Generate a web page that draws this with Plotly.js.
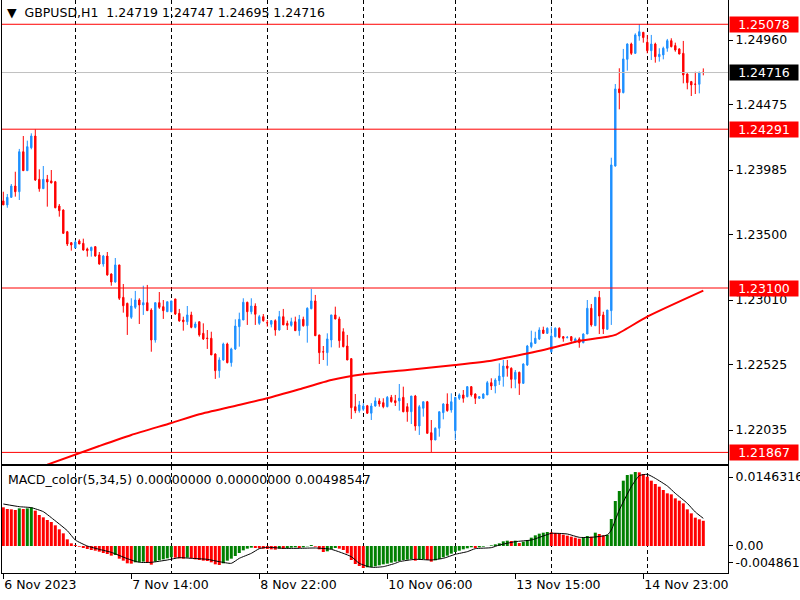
<!DOCTYPE html>
<html><head><meta charset="utf-8">
<script src="https://cdn.plot.ly/plotly-3.0.1.min.js"></script>
<style>html,body{margin:0;padding:0;background:#fff}#chart{width:800px;height:600px}</style>
</head><body><div id="chart"></div>
<script>
const symbol = "GBPUSD,H1";
const open = [
1.23753,1.23723,1.23780,1.23865,1.23822,1.24122,1.23980,1.24152,1.24240,1.23915,
1.23845,1.23915,1.23903,1.23897,1.23715,1.23685,1.23522,1.23440,1.23400,1.23453,
1.23435,1.23393,1.23380,1.23410,1.23348,1.23280,1.23340,1.23205,1.23145,1.23273,
1.23030,1.22985,1.22880,1.22955,1.23010,1.22973,1.22990,1.22935,1.22710,1.22990,
1.22960,1.22922,1.22922,1.23018,1.22910,1.22860,1.22847,1.22898,1.22805,1.22847,
1.22760,1.22725,1.22723,1.22605,1.22480,1.22560,1.22680,1.22540,1.22643,1.22810,
1.22860,1.22993,1.22922,1.22965,1.22835,1.22885,1.22840,1.22828,1.22855,1.22785,
1.22885,1.22835,1.22820,1.22847,1.22780,1.22865,1.22817,1.22945,1.23003,1.22748,
1.22622,1.22615,1.22710,1.22898,1.22868,1.22772,1.22665,1.22570,1.22210,1.22180,
1.22191,1.22217,1.22161,1.22215,1.22253,1.22240,1.22210,1.22280,1.22255,1.22253,
1.22280,1.22210,1.22172,1.22290,1.22065,1.22198,1.22247,1.22015,1.21960,1.22048,
1.22165,1.22230,1.22185,1.22030,1.22273,1.22298,1.22285,1.22360,1.22305,1.22273,
1.22273,1.22298,1.22390,1.22365,1.22405,1.22435,1.22515,1.22498,1.22415,1.22468,
1.22385,1.22523,1.22660,1.22685,1.22718,1.22785,1.22760,1.22622,1.22735,1.22798,
1.22735,1.22727,1.22735,1.22703,1.22718,1.22690,1.22755,1.22948,1.22817,1.23030,
1.22898,1.22790,1.22930,1.24015,1.24593,1.24565,1.24815,1.24930,1.24860,1.24990,
1.25018,1.24943,1.24880,1.24930,1.24835,1.24848,1.24898,1.24955,1.24918,1.24893,
1.24860,1.24705,1.24648,1.24630,1.24628,1.24719];
const high = [
1.23822,1.23805,1.23880,1.23972,1.24143,1.24240,1.24205,1.24260,1.24290,1.23990,
1.24015,1.23948,1.23985,1.23903,1.23730,1.23690,1.23528,1.23445,1.23460,1.23465,
1.23470,1.23403,1.23410,1.23415,1.23370,1.23348,1.23370,1.23210,1.23325,1.23273,
1.23130,1.22990,1.23023,1.23078,1.23023,1.23117,1.23123,1.22948,1.22990,1.23070,
1.23010,1.22997,1.23003,1.23018,1.22943,1.22885,1.22965,1.22922,1.22847,1.22847,
1.22835,1.22785,1.22772,1.22610,1.22580,1.22690,1.22690,1.22652,1.22865,1.22915,
1.23023,1.22997,1.23023,1.22985,1.22898,1.22905,1.22860,1.22860,1.22865,1.22928,
1.22943,1.22855,1.22877,1.22885,1.22898,1.22885,1.22955,1.23093,1.23048,1.22748,
1.22665,1.22760,1.22898,1.22960,1.22885,1.22798,1.22748,1.22575,1.22305,1.22253,
1.22236,1.22223,1.22236,1.22280,1.22273,1.22273,1.22290,1.22298,1.22298,1.22380,
1.22360,1.22236,1.22290,1.22298,1.22223,1.22247,1.22253,1.22110,1.22055,1.22172,
1.22236,1.22310,1.22310,1.22280,1.22310,1.22335,1.22365,1.22365,1.22310,1.22290,
1.22310,1.22403,1.22423,1.22423,1.22535,1.22560,1.22560,1.22505,1.22485,1.22472,
1.22535,1.22673,1.22780,1.22772,1.22805,1.22810,1.22805,1.22810,1.22805,1.22805,
1.22740,1.22740,1.22740,1.22728,1.22730,1.22760,1.23010,1.22980,1.23030,1.23078,
1.22922,1.22935,1.24077,1.24630,1.24748,1.24893,1.24935,1.24940,1.25010,1.25078,
1.25018,1.24998,1.24998,1.24940,1.24898,1.24910,1.24968,1.24973,1.24940,1.24898,
1.24953,1.24710,1.24653,1.24722,1.24722,1.24747];
const low = [
1.23723,1.23702,1.23775,1.23785,1.23760,1.23980,1.23980,1.24140,1.23903,1.23822,
1.23845,1.23710,1.23885,1.23698,1.23635,1.23505,1.23415,1.23380,1.23400,1.23430,
1.23380,1.23335,1.23335,1.23335,1.23275,1.23260,1.23192,1.23117,1.23140,1.23010,
1.22915,1.22748,1.22868,1.22943,1.22830,1.22898,1.22930,1.22622,1.22690,1.22943,
1.22868,1.22922,1.22918,1.22898,1.22847,1.22780,1.22823,1.22798,1.22798,1.22735,
1.22710,1.22643,1.22598,1.22418,1.22427,1.22555,1.22535,1.22510,1.22635,1.22660,
1.22860,1.22823,1.22903,1.22823,1.22823,1.22847,1.22810,1.22805,1.22742,1.22780,
1.22823,1.22785,1.22810,1.22780,1.22742,1.22810,1.22690,1.22940,1.22740,1.22530,
1.22560,1.22517,1.22655,1.22865,1.22652,1.22655,1.22560,1.22118,1.22161,1.22165,
1.22178,1.22155,1.22110,1.22210,1.22210,1.22198,1.22205,1.22240,1.22215,1.22180,
1.22168,1.22097,1.22080,1.22030,1.21998,1.22135,1.22010,1.21870,1.21960,1.21985,
1.22115,1.22172,1.22165,1.21960,1.22260,1.22240,1.22280,1.22285,1.22230,1.22268,
1.22268,1.22298,1.22335,1.22310,1.22373,1.22360,1.22435,1.22348,1.22348,1.22298,
1.22380,1.22515,1.22648,1.22680,1.22710,1.22755,1.22755,1.22615,1.22730,1.22723,
1.22697,1.22723,1.22697,1.22690,1.22652,1.22685,1.22755,1.22810,1.22815,1.22755,
1.22755,1.22790,1.22823,1.24010,1.24440,1.24560,1.24730,1.24848,1.24855,1.24955,
1.24940,1.24860,1.24810,1.24790,1.24798,1.24815,1.24872,1.24905,1.24872,1.24853,
1.24635,1.24590,1.24540,1.24555,1.24560,1.24695];
const close = [
1.23723,1.23780,1.23865,1.23822,1.24122,1.23980,1.24160,1.24240,1.23910,1.23845,
1.23915,1.23895,1.23888,1.23702,1.23680,1.23510,1.23430,1.23423,1.23445,1.23430,
1.23385,1.23380,1.23405,1.23340,1.23280,1.23340,1.23198,1.23145,1.23273,1.23023,
1.22967,1.22885,1.22965,1.23010,1.22973,1.22990,1.22930,1.22710,1.22990,1.22955,
1.22930,1.22997,1.23003,1.22905,1.22853,1.22847,1.22898,1.22805,1.22830,1.22748,
1.22718,1.22721,1.22598,1.22480,1.22560,1.22680,1.22540,1.22643,1.22815,1.22865,
1.22993,1.22922,1.22965,1.22903,1.22885,1.22855,1.22838,1.22855,1.22785,1.22885,
1.22823,1.22820,1.22847,1.22780,1.22865,1.22817,1.22948,1.23003,1.22742,1.22615,
1.22620,1.22718,1.22898,1.22868,1.22705,1.22660,1.22560,1.22202,1.22180,1.22223,
1.22215,1.22161,1.22215,1.22253,1.22230,1.22210,1.22280,1.22248,1.22240,1.22273,
1.22172,1.22172,1.22290,1.22065,1.22210,1.22247,1.22010,1.21960,1.22048,1.22172,
1.22230,1.22180,1.22247,1.22280,1.22298,1.22273,1.22360,1.22298,1.22273,1.22285,
1.22305,1.22390,1.22365,1.22410,1.22440,1.22515,1.22498,1.22415,1.22468,1.22385,
1.22530,1.22665,1.22690,1.22723,1.22785,1.22760,1.22798,1.22740,1.22798,1.22730,
1.22723,1.22730,1.22705,1.22718,1.22690,1.22755,1.22948,1.22823,1.23030,1.22890,
1.22793,1.22935,1.24023,1.24593,1.24565,1.24818,1.24930,1.24860,1.24998,1.25022,
1.24978,1.24880,1.24930,1.24835,1.24853,1.24898,1.24955,1.24910,1.24885,1.24855,
1.24698,1.24640,1.24623,1.24628,1.24718,1.24716];

// bar positions of the date ticks and their labels
const tickBars = [0, 32, 64, 96, 128, 160];
const tickLabels = ["6 Nov 2023", "7 Nov 14:00", "8 Nov 22:00", "10 Nov 06:00", "13 Nov 15:00", "14 Nov 23:00"];
// first bar of each day (period separators)
const dayStartBars = [18, 42, 66, 90, 113, 137, 161];
const priceTicks = [1.24960, 1.24475, 1.23985, 1.23500, 1.23010, 1.22525, 1.22035];
const levels = [1.25078, 1.24291, 1.23100, 1.21867];

// moving average (red line)
const maBars = [11, 24, 32, 42, 49, 57, 66, 74, 82, 90, 101, 113, 122, 127, 136, 144, 151, 153, 161, 175];
const maValues = [1.21775, 1.21915, 1.21998, 1.22088, 1.22153, 1.22210, 1.22273, 1.22340, 1.22410, 1.22453, 1.22485, 1.22523, 1.22555, 1.22585, 1.22643, 1.22703, 1.22735, 1.22748, 1.22885, 1.23080];

// MACD histogram
const macdHist = [
0.007646,0.007316,0.00725,0.007118,0.007448,0.007316,0.007448,0.007646,0.006987,0.00613,
0.005668,0.005141,0.004746,0.004087,0.003296,0.002505,0.001318,0.000527,0.000198,-0.000132,
-0.000395,-0.000593,-0.000791,-0.000923,-0.00112,-0.001384,-0.001582,-0.001911,-0.00178,-0.002505,
-0.0029,-0.003427,-0.003493,-0.00323,-0.003164,-0.003098,-0.003296,-0.003691,-0.003098,-0.002834,
-0.002636,-0.002439,-0.002241,-0.002307,-0.002439,-0.002505,-0.002307,-0.002439,-0.002636,-0.002768,
-0.0029,-0.002966,-0.00323,-0.003625,-0.003757,-0.003427,-0.0029,-0.002505,-0.001977,-0.001384,
-0.000857,-0.000527,-0.00033,-0.000395,-0.000461,-0.000527,-0.000593,-0.000659,-0.000725,-0.000527,
-0.000593,-0.000461,-0.00033,-0.000264,-0.000395,-0.000264,-0.000066,0.000198,-0.000132,-0.000659,
-0.001186,-0.001054,-0.000593,-0.000395,-0.000527,-0.000791,-0.00145,-0.002768,-0.003559,-0.003955,
-0.00435,-0.004218,-0.004152,-0.00402,-0.003823,-0.003625,-0.003493,-0.003296,-0.003098,-0.002966,
-0.002768,-0.002702,-0.00257,-0.0029,-0.002702,-0.00257,-0.002768,-0.003098,-0.002834,-0.00257,
-0.002241,-0.001911,-0.001516,-0.001186,-0.000923,-0.000659,-0.000461,-0.000264,-0.000395,-0.000264,
-0.000132,0.00001,0.000132,0.00033,0.000527,0.000923,0.001054,0.000989,0.001054,0.000593,
0.000857,0.001186,0.001648,0.002109,0.002439,0.002636,0.002768,0.002702,0.00257,0.002439,
0.002241,0.002043,0.001845,0.001648,0.00145,0.001714,0.001977,0.001845,0.002636,0.002373,
0.002109,0.002241,0.005338,0.008897,0.010874,0.012917,0.014037,0.014169,0.014632,0.014565,
0.014235,0.013708,0.012917,0.012258,0.011731,0.011072,0.010413,0.010215,0.009424,0.008963,
0.008436,0.00725,0.006459,0.005602,0.005273,0.004985];
// MACD signal line
const sigBars = [0,4,7,10,12,16,18,21,24,27,31,34,37,41,44,47,51,54,57,59,62,64,66,70,74,78,82,87,89,92,95,98,99,103,107,110,113,116,118,122,124,128,132,135,137,141,144,147,151,152,154,157,159,161,163,166,168,171,173,175];
const sigValues = [0.008305,0.007777,0.00758,0.006789,0.005602,0.003032,0.001186,0,-0.000659,-0.001252,
-0.002505,-0.00323,-0.00323,-0.002768,-0.002307,-0.002439,-0.002636,-0.003098,-0.003427,-0.002439,
-0.00145,-0.000527,-0.000264,-0.000461,-0.000461,-0.000395,-0.000659,-0.002109,-0.003427,-0.004218,
-0.004086,-0.003427,-0.003098,-0.002636,-0.002768,-0.002439,-0.001648,-0.00112,-0.000527,-0.00033,
0.000198,0.000857,0.001186,0.001977,0.002505,0.002373,0.001714,0.001714,0.002175,0.003164,
0.007118,0.011732,0.013907,0.014171,0.01338,0.011864,0.010414,0.008436,0.006723,0.00547];
const macdTickVals = [0.01364, 0, -0.00336];
const macdTickText = ["0.0146316", "0.00", "-0.0048615"];
const macdLabel = "MACD_color(5,34,5) 0.00000000 0.00000000 0.00498547";

const bars = open.map((_, i) => i);
const last = open.length - 1;
const FONT = {family: "DejaVu Sans", size: 12.5, color: "#000"};
const BULL = "#1E90FF", BEAR = "#FF0000";

const histColors = macdHist.map((v, i) => (i > 0 && v > macdHist[i - 1]) ? "#008000" : "#FF0000");

const traces = [
  {type: "candlestick", x: bars, open: open, high: high, low: low, close: close,
   xaxis: "x", yaxis: "y",
   increasing: {line: {color: BULL, width: 1}, fillcolor: BULL},
   decreasing: {line: {color: BEAR, width: 1}, fillcolor: BEAR},
   whiskerwidth: 0, hoverinfo: "skip"},
  {type: "scatter", mode: "lines", x: maBars, y: maValues, xaxis: "x", yaxis: "y",
   line: {color: "#FF0000", width: 2, shape: "spline", smoothing: 0.6}, hoverinfo: "skip"},
  {type: "bar", x: bars, y: macdHist, xaxis: "x2", yaxis: "y2",
   marker: {color: histColors, line: {width: 0}}, hoverinfo: "skip"},
  {type: "scatter", mode: "lines", x: sigBars, y: sigValues, xaxis: "x2", yaxis: "y2",
   line: {color: "#000", width: 1, shape: "spline", smoothing: 0.5}, hoverinfo: "skip"}
];

const xRange = [-0.325, 181.175];
const minorGrid = {tickmode: "array", tickvals: dayStartBars, showgrid: true, gridcolor: "#000",
  gridwidth: 1, griddash: "4px,3px", ticks: ""};

const shapes = levels.map(v => ({type: "line", xref: "paper", x0: 0, x1: 1, yref: "y", y0: v, y1: v,
  line: {color: "#FF0000", width: 1}}));
shapes.push({type: "line", xref: "paper", x0: 0, x1: 1, yref: "y", y0: close[last], y1: close[last],
  line: {color: "#C0C0C0", width: 1}});

const annotations = levels.map(v => ({xref: "paper", x: 1, xanchor: "left", xshift: 1,
  yref: "y", y: v, yanchor: "middle", text: v.toFixed(5), showarrow: false,
  bgcolor: "#FF0000", font: Object.assign({}, FONT, {color: "#fff"}), borderpad: 0, width: 68, align: "center"}));
annotations.push({xref: "paper", x: 1, xanchor: "left", xshift: 1, yref: "y", y: close[last], yanchor: "middle",
  text: close[last].toFixed(5), showarrow: false, bgcolor: "#000", font: Object.assign({}, FONT, {color: "#fff"}),
  borderpad: 0, width: 68, align: "center"});
annotations.push({xref: "paper", x: 0, xanchor: "left", xshift: 4, yref: "y2 domain", y: 1, yanchor: "top", yshift: -4,
  text: macdLabel, showarrow: false, font: FONT});

const layout = {
  width: 800, height: 600,
  margin: {l: 2, r: 72, t: 0, b: 27, pad: 0},
  paper_bgcolor: "#fff", plot_bgcolor: "#fff",
  showlegend: false, hovermode: false, dragmode: false,
  font: FONT,
  title: {text: "\u25BC\u00A0\u00A0" + symbol + "\u00A0\u00A0" + [open[last], high[last], low[last], close[last]].map(v => v.toFixed(5)).join(" "),
          x: 7 / 800, xref: "container", xanchor: "left", y: 1 - 13 / 600, yref: "container", yanchor: "middle", font: FONT},
  bargap: 0.25, boxgap: 0.5,
  xaxis: {domain: [0, 1], anchor: "y", range: xRange, rangeslider: {visible: false},
          showticklabels: false, ticks: "", showgrid: false, zeroline: false,
          showline: true, linecolor: "#000", linewidth: 1, mirror: true,
          tickmode: "array", tickvals: tickBars, minor: minorGrid},
  yaxis: {domain: [0.19023, 1], anchor: "x", side: "right", range: [1.2178, 1.2526],
          tickmode: "array", tickvals: priceTicks, tickformat: ".5f",
          ticks: "outside", ticklen: 4, tickcolor: "#000", tickfont: FONT,
          showgrid: false, zeroline: false, showline: true, linecolor: "#000", linewidth: 1, mirror: true},
  xaxis2: {domain: [0, 1], anchor: "y2", range: xRange,
           tickmode: "array", tickvals: tickBars, ticktext: tickLabels, ticklabelposition: "outside right",
           ticks: "outside", ticklen: 5, tickcolor: "#000", tickfont: FONT,
           showgrid: false, zeroline: false, showline: true, linecolor: "#000", linewidth: 1, mirror: true,
           minor: minorGrid},
  yaxis2: {domain: [0, 0.18674], anchor: "x2", side: "right", range: [-0.00534, 0.01582],
           tickmode: "array", tickvals: macdTickVals, ticktext: macdTickText,
           ticks: "outside", ticklen: 4, tickcolor: "#000", tickfont: FONT,
           showgrid: false, zeroline: false, showline: true, linecolor: "#000", linewidth: 1, mirror: true},
  shapes: shapes,
  annotations: annotations
};

Plotly.newPlot("chart", traces, layout, {displayModeBar: false, staticPlot: true});
</script>
</body></html>
